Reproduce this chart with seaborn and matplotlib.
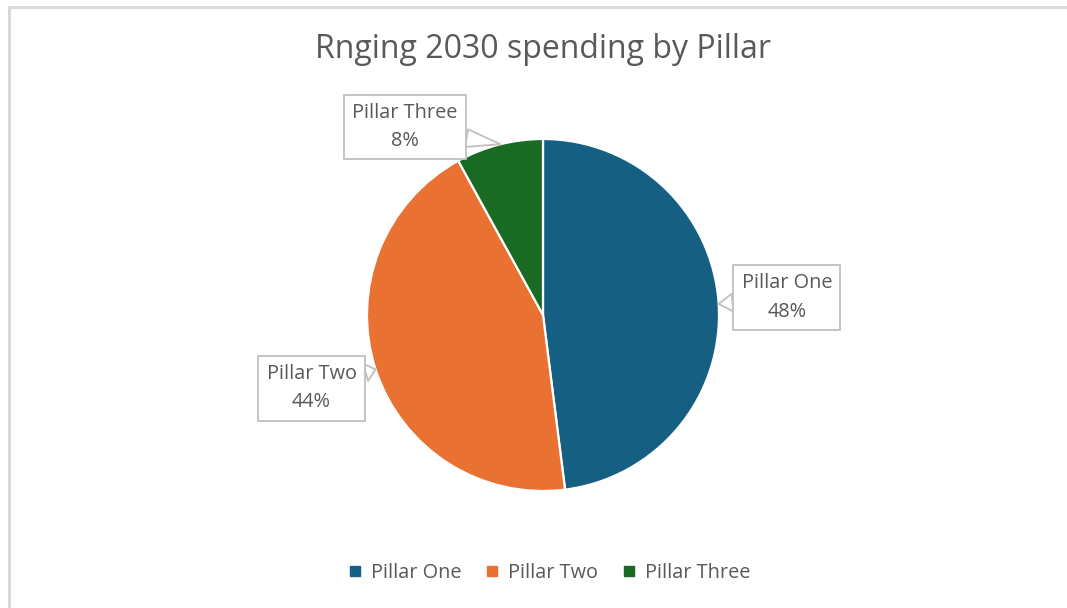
import matplotlib
matplotlib.use("Agg")
import matplotlib.pyplot as plt
import seaborn as sns
import numpy as np
from matplotlib.patches import Rectangle
from matplotlib.lines import Line2D

categories = ["Pillar One", "Pillar Two", "Pillar Three"]
values = [48, 44, 8]
colors = ["#156082", "#E97132", "#196B24"]
title = "Rnging 2030 spending by Pillar"

sns.set_theme(style="white")
plt.rcParams['font.family'] = ['Open Sans', 'DejaVu Sans']
TXT = "#595959"

W, H = 1067, 608
fig = plt.figure(figsize=(W / 100, H / 100), dpi=100)
fig.patch.set_facecolor("white")

cx, cy, r = 543, 315, 176
ax = fig.add_axes([(cx - r) / W, (H - cy - r) / H, 2 * r / W, 2 * r / H])
wedges, _ = ax.pie(values, colors=colors, startangle=90, counterclock=False,
                   wedgeprops=dict(edgecolor="white", linewidth=1.6))
ax.set_xlim(-1, 1)
ax.set_ylim(-1, 1)
ax.set_aspect("equal")
ax.axis("off")

# label box centres (layout, in pie-radius units)
label_pos = [(1.385, 0.10), (-1.315, -0.415), (-0.785, 1.068)]
total = sum(values)
start = 90.0
for i, (cat, v) in enumerate(zip(categories, values)):
    ang = start - 360.0 * v / total / 2
    start -= 360.0 * v / total
    tip = (np.cos(np.radians(ang)), np.sin(np.radians(ang)))
    if i == 2:
        tip = (np.cos(np.radians(104)), np.sin(np.radians(104)))
    ax.annotate(f"{cat}\n{v}%", xy=tip, xytext=label_pos[i],
                ha="center", va="center", fontsize=14.3, color=TXT,
                linespacing=1.55, annotation_clip=False,
                bbox=dict(boxstyle="square,pad=0.42", fc="white", ec="#BFBFBF", lw=1.3),
                arrowprops=dict(arrowstyle="wedge,tail_width=0.9,shrink_factor=0.5",
                                fc="white", ec="#BFBFBF", lw=1.3, shrinkA=0, shrinkB=0))

fig.text(cx / W, 1 - 50 / H, title, ha="center", va="center", fontsize=23, color=TXT)

handles = [Line2D([0], [0], marker="s", linestyle="none", markersize=7,
                  markerfacecolor=c, markeredgecolor=c) for c in colors]
fig.legend(handles, categories, loc="center", bbox_to_anchor=(cx / W + 0.006, 1 - 573 / H),
           ncol=3, frameon=False, fontsize=14.3, labelcolor=TXT,
           handlelength=0.6, handletextpad=0.5, columnspacing=1.25)

fig.patches.append(Rectangle((9 / W, -0.1), 1.2, 1.1 - 7 / H, transform=fig.transFigure,
                             fill=False, edgecolor="#D9D9D9", lw=2.2))

fig.savefig("out.png", dpi=100)
